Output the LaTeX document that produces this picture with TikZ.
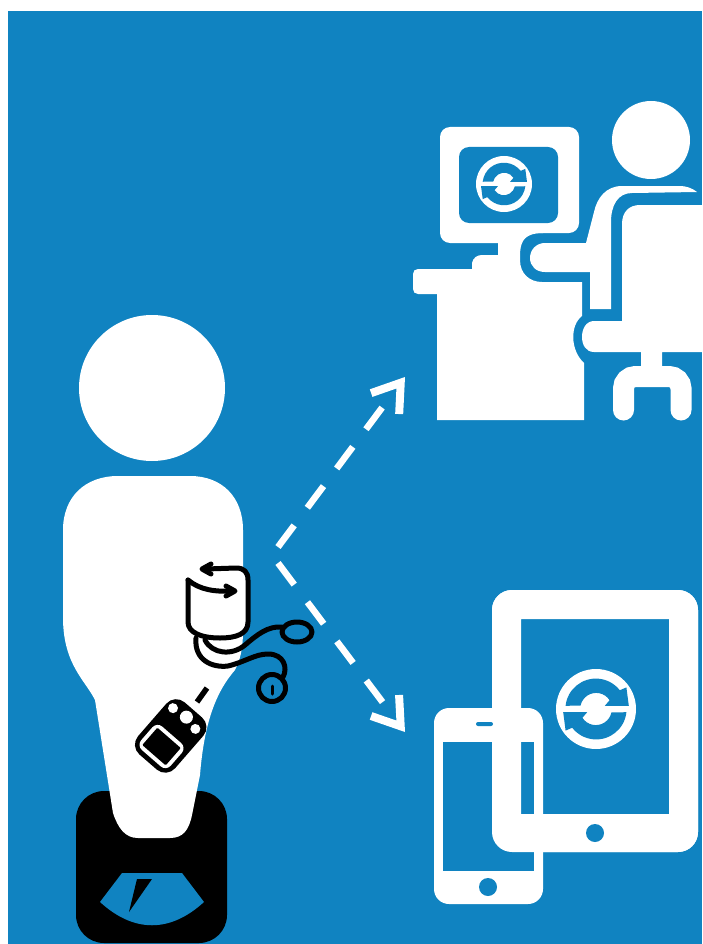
\documentclass[tikz,border=0pt]{standalone}
\usetikzlibrary{arrows.meta}
\definecolor{panelblue}{HTML}{1083C1}

\begin{document}
\begin{tikzpicture}[x=1pt, y=-1pt,
  solid white/.style={fill=white},
  solid black/.style={fill=black},
  solid blue/.style={fill=panelblue},
  outline/.style={draw=black, line width=5pt, line cap=round, line join=round},
  flow/.style={draw=white, line width=6.5pt, dash pattern=on 27pt off 22pt on 27pt off 22pt on 27pt off 22pt on 27pt off 40pt, -{Straight Barb[length=26pt, width=35pt, line width=8pt]}},
  pics/syncicon/.style={code={
    \fill [white] (0,0) circle [radius=1];
    \foreach \turn in {0,180} {
      \fill [panelblue, rotate=\turn] (-.76,-.08) arc [start angle=186, end angle=322, radius=.76]
        -- (.76,-.54) -- (.82,-.08) -- (.22,-.08) -- (.34,-.22)
        arc [start angle=327, end angle=192, radius=.4] -- cycle;
    }
  }}]
  \useasboundingbox (0,0) rectangle (702,944);
  \fill [solid blue] (8,11) rectangle (702,944);

  % scale under the feet
  \fill [solid black, rounded corners=28pt] (76,791) rectangle (227,943);
  \fill [solid blue] (122,873) -- (182,873) -- (204,902) .. controls (170,933) and (134,933) .. (100,902) -- cycle;
  \fill [solid black] (137,879) -- (152,879) -- (129,912) -- cycle;

  % person
  \fill [solid white] (152,388) circle [radius=73];
  \fill [solid white] (118,476) .. controls (85,476) and (63,497) .. (63,530) -- (63,620)
    .. controls (64,665) and (85,680) .. (95,700) -- (113,813)
    .. controls (118,828) and (125,838) .. (138,838) -- (170,838)
    .. controls (183,838) and (189,830) .. (192,815) -- (200,775)
    .. controls (204,725) and (215,693) .. (235,670) .. controls (240,660) and (243,650) .. (243,630)
    -- (243,530) .. controls (243,497) and (222,476) .. (190,476) -- cycle;

  % cuff and tubes
  \draw [outline, fill=white] (188,580) -- (188,622) .. controls (188,632) and (200,638) .. (220,638)
    .. controls (236,638) and (248,634) .. (248,622) -- (248,580) .. controls (248,572) and (244,568) .. (236,568) -- (206,569);
  \draw [outline] (211,564) -- (202,569) -- (211,574);
  \draw [outline] (188,580) .. controls (200,590) and (215,592) .. (234,591);
  \draw [outline] (226,586) -- (235,591) -- (226,596);
  \draw [outline] (205,640) .. controls (212,654) and (232,656) .. (245,645) .. controls (258,634) and (268,626) .. (282,627);
  \draw [outline] (297,632) ellipse [x radius=15, y radius=10];
  \draw [outline] (196,638) .. controls (194,660) and (212,668) .. (228,666) .. controls (245,662) and (255,654) .. (268,654)
    .. controls (284,654) and (288,668) .. (283,677);
  \draw [outline] (272,688) circle [radius=13.5];
  \draw [outline, line width=3pt] (272,686) -- (272,694);

  % handheld unit
  \draw [outline, line width=5.5pt, line cap=butt] (197,702) -- (207,688);
  \begin{scope}[shift={(170,736)}, rotate=-41]
    \fill [solid black, rounded corners=13pt] (-24,-35) rectangle (25,34);
    \fill [solid white, rounded corners=7pt] (-19,-2) rectangle (20,29);
    \fill [solid black, rounded corners=1pt] (-15,2) rectangle (16,25);
    \fill [solid white] (-16,-23) circle [radius=5];
    \fill [solid white] (0,-25) circle [radius=6.5];
    \fill [solid white] (14.5,-22) circle [radius=5];
  \end{scope}

  % desk with monitor
  \fill [solid white, rounded corners=10pt] (440,127) rectangle (579,233);
  \fill [solid white, rounded corners=10pt] (440,200) rectangle (522,243);
  \fill [solid white] (510,233) -- (543,233) .. controls (532,233) and (525,236) .. (522,243) -- (510,243) -- cycle;
  \fill [solid blue, rounded corners=10pt] (459,147) rectangle (558,223);
  \pic [scale=28] (desksync) at (504,184) {syncicon};
  \fill [solid white] (437,420) -- (437,294) -- (418,294) .. controls (415,294) and (413,292) .. (413,289)
    -- (413,274) .. controls (413,271) and (415,269) .. (418,269) -- (472,269) -- (472,263)
    .. controls (473,258) and (477,255) .. (482,255) -- (498,255) -- (498,240) -- (522,240) -- (522,243)
    .. controls (520,248) and (520,253) .. (520,260) .. controls (520,274) and (530,282) .. (542,282)
    -- (582,282) -- (582,316) .. controls (570,325) and (570,350) .. (584,363) -- (584,420) -- cycle;

  % seated person
  \fill [solid white] (651,140) circle [radius=39];
  \fill [solid white] (697,192) .. controls (692,188) and (686,186) .. (680,186) -- (622,186)
    .. controls (606,186) and (597,198) .. (594,212) -- (586,243)
    -- (545,243) .. controls (536,243) and (530,250) .. (530,258) .. controls (530,266) and (536,272) .. (545,272)
    -- (590,272) -- (590,309) -- (611,309) -- (611,222) .. controls (611,205) and (618,193) .. (632,193) -- cycle;
  \fill [solid white] (702,205) -- (640,205) .. controls (629,205) and (622,212) .. (622,224) -- (622,321)
    -- (594,321) .. controls (586,321) and (582,329) .. (582,337) .. controls (582,345) and (586,352) .. (594,352)
    -- (641,352) -- (641,368) -- (662,368) -- (662,352) -- (702,352) -- cycle;
  \draw [white, line width=21pt, line cap=round, rounded corners=12pt] (623.5,410) -- (623.5,376.5) -- (681,376.5) -- (681,410);

  % tablet and phone
  \fill [solid white, rounded corners=20pt] (492,590) rectangle (698,852);
  \fill [solid blue] (521,619) rectangle (669,814);
  \fill [solid white, rounded corners=15pt] (434,708) rectangle (543,904);
  \fill [solid blue] (443,742) rectangle (534,871);
  \fill [solid white, rounded corners=20pt, even odd rule] (492,590) rectangle (698,852)
    [sharp corners] (521,619) rectangle (669,814);
  \fill [solid blue, rounded corners=2pt] (476,722) rectangle (493,726);
  \fill [solid blue] (488,887) circle [radius=9];
  \fill [solid blue] (595,833) circle [radius=9];
  \pic [scale=40] (phonesync) at (596,709) {syncicon};

  % data flow
  \coordinate (forkup) at (278,547);
  \coordinate (forkdown) at (278,563);
  \coordinate (deskend) at (405,377);
  \coordinate (phoneend) at (405,732);
  \draw [flow] (forkup) -- (deskend);
  \draw [flow] (forkdown) -- (phoneend);
\end{tikzpicture}
\end{document}
